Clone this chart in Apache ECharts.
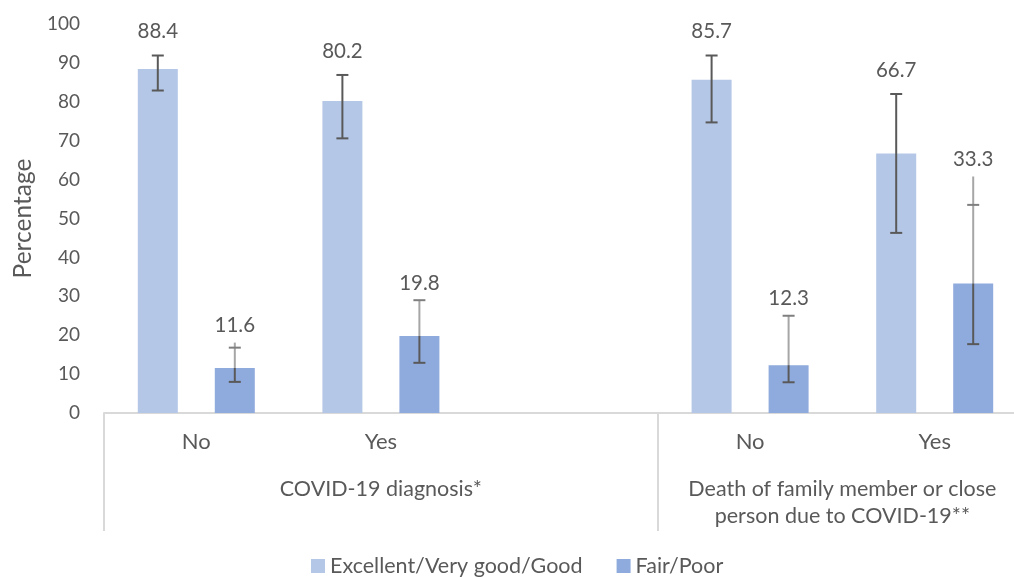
<!DOCTYPE html>
<html>
<head>
<meta charset="utf-8">
<script src="https://cdn.jsdelivr.net/npm/echarts@6/dist/echarts.min.js"></script>
<style>
  html, body { margin: 0; padding: 0; background: #fff; }
  #chart { width: 1014px; height: 577px; }
</style>
</head>
<body>
<div id="chart"></div>
<script>
// categories: the empty slot separates the two groups
const categories = ['No', 'Yes', '', 'No', 'Yes']
const groupLabels = ['COVID-19 diagnosis*', 'Death of family member or close\nperson due to COVID-19**']
const seriesNames = ['Excellent/Very good/Good', 'Fair/Poor']

const goodValues = [88.4, 80.2, null, 85.7, 66.7]
const poorValues = [11.6, 19.8, null, 12.3, 33.3]

// error bars
const goodLow = [82.9, 70.6, null, 74.7, 46.3]
const goodHigh = [91.9, 86.9, null, 91.9, 82.0]
const poorLow = [8.0, 12.9, null, 7.9, 17.7]
const poorHigh = [16.8, 29.0, null, 25.0, 53.5]
// thin whisker that runs past the upper cap on some Fair/Poor bars
const poorWhiskerTop = [18.1, 29.0, null, 25.0, 60.8]

const yTicks = [0, 10, 20, 30, 40, 50, 60, 70, 80, 90, 100]

const TEXT = '#595959'
const GRID_LINE = '#d9d9d9'
const FONT = 'Lato'
const BAR_W = 40
const BAR_GAP = 37
const OFFSET = (BAR_W + BAR_GAP) / 2

const chart = echarts.init(document.getElementById('chart'))

const errData = (low, high, top, vals) =>
  categories.map((c, i) => (vals[i] == null ? null : [i, low[i], high[i], top[i], vals[i]])).filter(d => d)

const makeErrRender = (dir, light) => (params, api) => {
  const cx = api.coord([api.value(0), 0])[0] + dir * OFFSET
  const yLow = api.coord([0, api.value(1)])[1]
  const yHigh = api.coord([0, api.value(2)])[1]
  const yTop = api.coord([0, api.value(3)])[1]
  const yBar = api.coord([0, api.value(4)])[1]
  const cap = 6
  const v = api.value(4)
  const children = []
  if (light) {
    children.push(
      { type: 'line', shape: { x1: cx, y1: yLow, x2: cx, y2: yHigh }, style: { stroke: TEXT, lineWidth: 2 } },
      { type: 'line', shape: { x1: cx - cap, y1: yLow, x2: cx + cap, y2: yLow }, style: { stroke: TEXT, lineWidth: 2 } },
      { type: 'line', shape: { x1: cx - cap, y1: yHigh, x2: cx + cap, y2: yHigh }, style: { stroke: TEXT, lineWidth: 2 } }
    )
  } else {
    children.push(
      { type: 'line', shape: { x1: cx, y1: yBar, x2: cx, y2: yTop }, style: { stroke: '#a6a6a6', lineWidth: 2 } },
      { type: 'line', shape: { x1: cx, y1: yLow, x2: cx, y2: yBar }, style: { stroke: TEXT, lineWidth: 2 } },
      { type: 'line', shape: { x1: cx - cap, y1: yLow, x2: cx + cap, y2: yLow }, style: { stroke: TEXT, lineWidth: 2 } },
      { type: 'line', shape: { x1: cx - cap, y1: yHigh, x2: cx + cap, y2: yHigh }, style: { stroke: '#7f7f7f', lineWidth: 2 } }
    )
  }
  const labelY = light ? yHigh - 24 : yTop - 17
  children.push({
    type: 'text',
    style: {
      text: v.toFixed(1), x: cx, y: labelY, align: 'center', verticalAlign: 'middle',
      fill: TEXT, fontSize: 20.5, fontFamily: FONT
    }
  })
  return { type: 'group', children }
}

const option = {
  animation: false,
  textStyle: { fontFamily: FONT },
  grid: { left: 104, right: -13, top: 24, bottom: 164, outerBoundsMode: 'none', containLabel: false },
  legend: {
    data: seriesNames,
    bottom: -5,
    left: 306,
    itemWidth: 14,
    itemHeight: 14,
    itemGap: 34,
    icon: 'rect',
    textStyle: { color: TEXT, fontSize: 21.5, fontFamily: FONT }
  },
  xAxis: [
    {
      type: 'category',
      data: categories,
      axisLine: { lineStyle: { color: GRID_LINE, width: 2 } },
      axisTick: { show: false },
      axisLabel: { color: TEXT, fontSize: 22, fontFamily: FONT, margin: 18 }
    },
    {
      type: 'value',
      position: 'bottom',
      min: 0,
      max: categories.length,
      axisLine: { show: false },
      splitLine: { show: false },
      axisTick: {
        show: true,
        customValues: [0, 3, 5],
        length: 118,
        lineStyle: { color: GRID_LINE, width: 2 }
      },
      axisLabel: {
        customValues: [1.5, 4],
        formatter: v => (v === 1.5 ? groupLabels[0] : groupLabels[1]),
        color: TEXT,
        fontSize: 21.5,
        fontFamily: FONT,
        lineHeight: 27,
        verticalAlign: 'top',
        margin: 63
      }
    }
  ],
  yAxis: {
    type: 'value',
    min: yTicks[0],
    max: yTicks[yTicks.length - 1],
    interval: 10,
    name: 'Percentage',
    nameLocation: 'middle',
    nameGap: 68,
    nameTextStyle: { color: TEXT, fontSize: 24.5, fontFamily: FONT },
    axisLine: { show: false },
    axisTick: { show: false },
    splitLine: { show: false },
    axisLabel: { color: TEXT, fontSize: 19, fontFamily: FONT, margin: 24 }
  },
  series: [
    {
      name: seriesNames[0],
      type: 'bar',
      data: goodValues,
      barWidth: BAR_W,
      barGap: (BAR_GAP / BAR_W * 100) + '%',
      itemStyle: { color: '#b4c7e7' }
    },
    {
      name: seriesNames[1],
      type: 'bar',
      data: poorValues,
      barWidth: BAR_W,
      itemStyle: { color: '#8faadc' }
    },
    {
      type: 'custom',
      renderItem: makeErrRender(-1, true),
      data: errData(goodLow, goodHigh, goodHigh, goodValues),
      z: 5
    },
    {
      type: 'custom',
      renderItem: makeErrRender(1, false),
      data: errData(poorLow, poorHigh, poorWhiskerTop, poorValues),
      z: 5
    }
  ]
}

chart.setOption(option)
window.addEventListener('resize', () => chart.resize())
</script>
</body>
</html>
